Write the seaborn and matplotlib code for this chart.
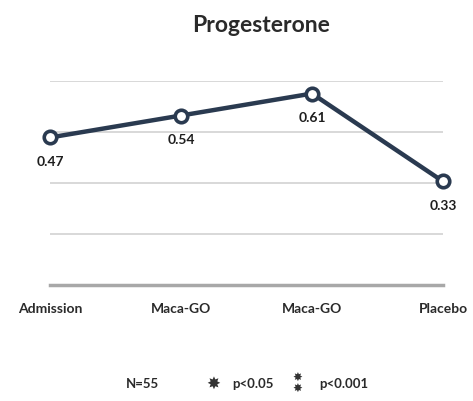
# Progesterone line chart, recreated with seaborn

import pandas as pd
import matplotlib
matplotlib.use('Agg')
import matplotlib.pyplot as plt
import seaborn as sns

# data
groups = ['Admission', 'Maca-GO', 'Maca-GO ', 'Placebo']
tick_labels = ['Admission', 'Maca-GO', 'Maca-GO', 'Placebo']
values = [0.47, 0.54, 0.61, 0.33]
value_labels = ['0.47', '0.54', '0.61', '0.33']

df = pd.DataFrame({'group': range(len(groups)), 'value': values})

sns.set_style('white')
plt.rcParams['font.family'] = ['Lato', 'DejaVu Sans']

fig = plt.figure(figsize=(4.73, 4.02), dpi=100)
ax = fig.add_axes([0.1057, 0.2886, 0.8309, 0.5074])

line_color = '#2a3a50'
sns.lineplot(data=df, x='group', y='value', ax=ax, color=line_color, linewidth=3.2,
             marker='o', markersize=9, markerfacecolor='white',
             markeredgecolor=line_color, markeredgewidth=2.6, zorder=5, clip_on=False)

# value labels under each point
for i, (v, lab) in enumerate(zip(values, value_labels)):
    ax.annotate(lab, (i, v), xytext=(0, -17), textcoords='offset points',
                ha='center', va='center', fontsize=10, fontweight='bold', color='#1e1e1e')

ax.set_xlim(0, 3)
ax.set_ylim(0, 0.65)
ax.set_yticks([0.1625, 0.325, 0.4875, 0.65])
ax.set_yticklabels([])
ax.tick_params(axis='y', length=0)
ax.yaxis.grid(True, color='#d6d6d6', linewidth=1.3)
ax.set_xticks(range(len(groups)))
ax.set_xticklabels(tick_labels, fontsize=10, fontweight='bold', color='#2a2a2a')
ax.tick_params(axis='x', length=0, pad=12)
for s in ['top', 'right', 'left']:
    ax.spines[s].set_visible(False)
ax.spines['bottom'].set_color('#a8a8a8')
ax.spines['bottom'].set_linewidth(2.5)
ax.set_xlabel('')
ax.set_ylabel('')

# title
fig.text(261 / 473, 1 - 25 / 402, 'Progesterone', ha='center', va='center',
         fontsize=16.5, fontweight='bold', color='#2a2a2a')

# footer
fy = 1 - 384 / 402
fig.text(142 / 473, fy, 'N=55', ha='center', va='center', fontsize=9.5,
         fontweight='bold', color='#2a2a2a')
fig.text(213 / 473, fy, '✸', ha='center', va='center', fontsize=12, color='#333333',
         family=['DejaVu Sans'])
fig.text(253 / 473, fy, 'p<0.05', ha='center', va='center', fontsize=9.5,
         fontweight='bold', color='#2a2a2a')
fig.text(297 / 473, fy, '✸\n✸', ha='center', va='center', fontsize=8.5, color='#333333',
         linespacing=0.85, family=['DejaVu Sans'])
fig.text(344 / 473, fy, 'p<0.001', ha='center', va='center', fontsize=9.5,
         fontweight='bold', color='#2a2a2a')

fig.savefig('out.png', dpi=100)
